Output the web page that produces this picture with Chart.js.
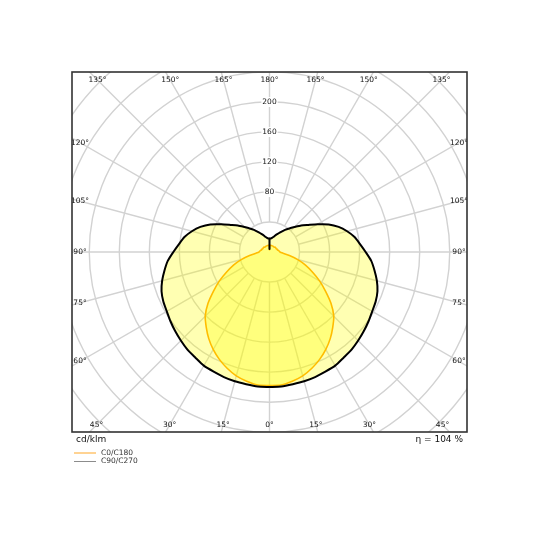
<!DOCTYPE html>
<html>
<head>
<meta charset="utf-8">
<script src="https://cdn.jsdelivr.net/npm/chart.js@4.4.1/dist/chart.umd.min.js"></script>
<style>
  html, body { margin: 0; padding: 0; background: #fff; }
  canvas { display: block; }
</style>
</head>
<body>
<canvas id="polarChart" width="540" height="540"></canvas>
<script>
// gamma angles (deg from nadir), both curves are symmetric left / right
const angles = [0, 5, 10, 15, 20, 25, 30, 35, 40, 45, 50, 55, 60, 65, 70, 75, 80, 85, 90,
  95, 100, 105, 110, 115, 120, 125, 130, 135, 140, 145, 150, 155, 160, 165, 170, 175, 179.5, 180];
// cd/klm, C0/C180 plane
const c0Values = [178, 178, 175, 171, 165, 158, 150, 141, 131, 121, 107, 91, 77, 63, 51, 39, 27, 18, 14,
  13, 12, 11, 11, 10, 10, 10, 10, 9, 9, 9, 9, 9, 9, 9, 9, 9, 9, 3];
// cd/klm, C90/C270 plane
const c90Values = [180, 180, 179, 178.5, 177.5, 176, 175, 172, 170, 167, 164, 161, 158, 156, 153, 148, 142, 136, 128,
  121, 115, 107, 98, 87, 74, 63, 55, 47, 41, 36, 31, 27, 24, 21, 19, 18, 18, 4];

const seriesNames = ["C0/C180", "C90/C270"];
const legendColors = ["#ffa726", "#8c8c8c"];
const ringValues = [40, 80, 120, 160, 200, 240, 280, 320, 360, 400];
const ringLabels = [80, 120, 160, 200];
const angleTicks = [0, 15, 30, 45, 60, 75, 90, 105, 120, 135, 150, 165, 180];
const unitLabel = "cd/klm";
const efficiencyLabel = "η = 104 %";

// closed outline: right half 0 -> 180, then left half back down to 0
function outline(values) {
  const pts = [];
  angles.forEach((a, i) => {
    const r = a * Math.PI / 180;
    pts.push({ x: values[i] * Math.sin(r), y: -values[i] * Math.cos(r) });
  });
  for (let i = angles.length - 2; i >= 0; i--) {
    const r = angles[i] * Math.PI / 180;
    pts.push({ x: -values[i] * Math.sin(r), y: -values[i] * Math.cos(r) });
  }
  return pts;
}

const font = '"DejaVu Sans", sans-serif';

const polarGrid = {
  id: 'polarGrid',
  beforeDatasetsDraw(chart) {
    const { ctx, chartArea: a, scales: { x, y } } = chart;
    const cx = x.getPixelForValue(0), cy = y.getPixelForValue(0);
    const k = x.getPixelForValue(1) - cx;
    ctx.save();
    ctx.beginPath();
    ctx.rect(a.left, a.top, a.right - a.left, a.bottom - a.top);
    ctx.clip();
    ctx.strokeStyle = '#d2d2d2';
    ctx.lineWidth = 1.4;
    ringValues.forEach(v => {
      ctx.beginPath();
      ctx.arc(cx, cy, v * k, 0, Math.PI * 2);
      ctx.stroke();
    });
    for (let a2 = 0; a2 < 360; a2 += 15) {
      const r = a2 * Math.PI / 180;
      const r0 = ringValues[0] * k, r1 = 600 * k;
      ctx.beginPath();
      ctx.moveTo(cx + r0 * Math.sin(r), cy + r0 * Math.cos(r));
      ctx.lineTo(cx + r1 * Math.sin(r), cy + r1 * Math.cos(r));
      ctx.stroke();
    }
    // value labels up the 180 axis
    ctx.font = '7.5px ' + font;
    ctx.textAlign = 'center';
    ctx.textBaseline = 'middle';
    ringLabels.forEach(v => {
      const py = y.getPixelForValue(v);
      const w = ctx.measureText(String(v)).width;
      ctx.fillStyle = '#fff';
      ctx.fillRect(cx - w / 2 - 1, py - 5, w + 2, 10);
      ctx.fillStyle = '#111';
      ctx.fillText(String(v), cx, py);
    });
    ctx.restore();
  },
  afterDatasetsDraw(chart) {
    const { ctx, chartArea: a, scales: { x, y } } = chart;
    const cx = x.getPixelForValue(0), cy = y.getPixelForValue(0);
    const inset = 8;
    ctx.save();
    ctx.beginPath();
    ctx.rect(a.left, a.top, a.right - a.left, a.bottom - a.top);
    ctx.clip();
    ctx.font = '7.5px ' + font;
    ctx.textAlign = 'center';
    ctx.textBaseline = 'middle';
    ctx.fillStyle = '#111';
    [1, -1].forEach(side => {
      angleTicks.forEach(deg => {
        if (side < 0 && (deg === 0 || deg === 180)) return;
        const r = deg * Math.PI / 180;
        const dx = side * Math.sin(r), dy = Math.cos(r);
        let t = Infinity;
        if (dx > 1e-6) t = Math.min(t, (a.right - inset - cx) / dx);
        if (dx < -1e-6) t = Math.min(t, (a.left + inset - cx) / dx);
        if (dy > 1e-6) t = Math.min(t, (a.bottom - inset + 1 - cy) / dy);
        if (dy < -1e-6) t = Math.min(t, (a.top + inset - cy) / dy);
        ctx.fillText(deg + '°', cx + dx * t, cy + dy * t);
      });
    });
    ctx.restore();

    ctx.save();
    ctx.strokeStyle = '#333';
    ctx.lineWidth = 1.6;
    ctx.strokeRect(a.left, a.top, a.right - a.left, a.bottom - a.top);

    ctx.fillStyle = '#111';
    ctx.textBaseline = 'middle';
    ctx.font = '9px ' + font;
    ctx.textAlign = 'left';
    ctx.fillText(unitLabel, a.left + 4, a.bottom + 8);
    ctx.textAlign = 'right';
    ctx.fillText(efficiencyLabel, a.right - 4, a.bottom + 8);

    ctx.font = '7.5px ' + font;
    ctx.textAlign = 'left';
    seriesNames.forEach((name, i) => {
      const ly = a.bottom + 21 + i * 8.5;
      ctx.strokeStyle = legendColors[i];
      ctx.lineWidth = 1;
      ctx.beginPath();
      ctx.moveTo(a.left + 2, ly);
      ctx.lineTo(a.left + 24, ly);
      ctx.stroke();
      ctx.fillStyle = '#333';
      ctx.fillText(name, a.left + 29, ly);
    });
    ctx.restore();
  }
};

const chart = new Chart(document.getElementById('polarChart').getContext('2d'), {
  type: 'scatter',
  data: {
    datasets: [{
      label: seriesNames[1],
      data: outline(c90Values),
      showLine: true,
      borderColor: '#000',
      borderWidth: 2,
      backgroundColor: 'rgba(255, 255, 0, 0.3)',
      fill: 'shape',
      tension: 0.2,
      pointRadius: 0,
      borderJoinStyle: 'round',
    }, {
      label: seriesNames[0],
      data: outline(c0Values),
      showLine: true,
      borderColor: '#ffa000',
      borderWidth: 1.6,
      backgroundColor: 'rgba(255, 255, 0, 0.3)',
      fill: 'shape',
      tension: 0.2,
      pointRadius: 0,
      borderJoinStyle: 'round',
    }]
  },
  options: {
    responsive: false,
    animation: false,
    layout: { padding: { left: 72, right: 73, top: 72, bottom: 108 } },
    scales: {
      x: { type: 'linear', min: -263, max: 263, display: false },
      y: { type: 'linear', min: -240, max: 240, display: false }
    },
    plugins: {
      legend: { display: false },
      tooltip: { enabled: false }
    }
  },
  plugins: [polarGrid]
});
</script>
</body>
</html>
